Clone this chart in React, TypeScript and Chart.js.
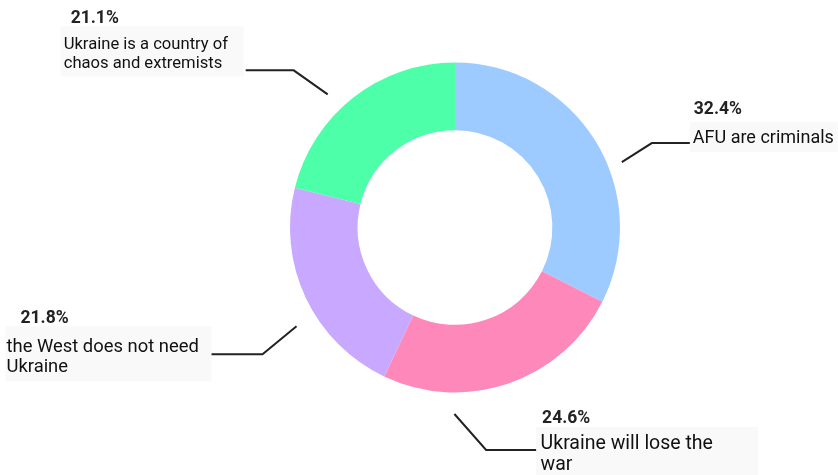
import React, { useEffect, useRef } from "react";
import { Chart, registerables } from "chart.js";

Chart.register(...registerables);

const CATEGORIES: string[][] = [
  ["AFU are criminals"],
  ["Ukraine will lose the", "war"],
  ["the West does not need", "Ukraine"],
  ["Ukraine is a country of", "chaos and extremists"],
];
const VALUES: number[] = [32.4, 24.6, 21.8, 21.1];
const COLORS: string[] = ["#9ecbff", "#ff88ba", "#c9a8ff", "#4dffa9"];

// annotation layout (leader lines and text boxes), relative to each slice
type LabelLayout = {
  shift: number;
  gap: number;
  elbow: [number, number];
  arm: number;
  boxX: number;
  boxY: number;
  boxW: number;
  boxH: number;
  textX: number;
  textY: number;
  pctX: number;
  pctY: number;
  size: number;
  lineH: number;
};
const LAYOUT: LabelLayout[] = [
  { shift: 10.2, gap: 14.2, elbow: [30, -19], arm: 38, boxX: 0, boxY: -21, boxW: 148, boxH: 30, textX: 3, textY: 0, pctX: 4, pctY: -29, size: 18, lineH: 20 },
  { shift: 19.1, gap: 21.5, elbow: [31.7, 36], arm: 50, boxX: 0, boxY: -23, boxW: 222, boxH: 50, textX: 4.5, textY: -0.5, pctX: 6, pctY: -27, size: 19.5, lineH: 20.7 },
  { shift: -6.6, gap: 21.7, elbow: [-34, 28], arm: -51, boxX: -206, boxY: -28, boxW: 206, boxH: 55, textX: -205, textY: -2, pctX: -191, pctY: -31, size: 18.4, lineH: 19.7 },
  { shift: -5.7, gap: 19.2, elbow: [-34, -24], arm: -48, boxX: -185, boxY: -44, boxW: 183, boxH: 50, textX: -182, textY: -21.7, pctX: -175, pctY: -47, size: 16.6, lineH: 19 },
];

const labelPlugin = {
  id: "leaderLabels",
  afterDraw(chart: any) {
    const ctx = chart.ctx as CanvasRenderingContext2D;
    const meta = chart.getDatasetMeta(0);
    const data = chart.data.datasets[0].data as number[];
    const labels = chart.data.labels as string[][];
    meta.data.forEach((arc: any, i: number) => {
      const L = LAYOUT[i];
      const p = arc.getProps(["x", "y", "startAngle", "endAngle", "outerRadius"], true);
      const a = (p.startAngle + p.endAngle) / 2 + (L.shift * Math.PI) / 180;
      const r = p.outerRadius + L.gap;
      const sx = p.x + Math.cos(a) * r;
      const sy = p.y + Math.sin(a) * r;
      const ex1 = sx + L.elbow[0];
      const ey1 = sy + L.elbow[1];
      const ex = ex1 + L.arm;
      const ey = ey1;
      ctx.save();
      ctx.fillStyle = "#f9f9f9";
      ctx.fillRect(ex + L.boxX, ey + L.boxY, L.boxW, L.boxH);
      ctx.strokeStyle = "#222222";
      ctx.lineWidth = 2;
      ctx.lineJoin = "miter";
      ctx.beginPath();
      ctx.moveTo(sx, sy);
      ctx.lineTo(ex1, ey1);
      ctx.lineTo(ex, ey);
      ctx.stroke();
      ctx.fillStyle = "#222222";
      ctx.textBaseline = "alphabetic";
      ctx.textAlign = "left";
      ctx.font = "bold 17.5px Roboto";
      ctx.fillText(data[i].toFixed(1) + "%", ex + L.pctX, ey + L.pctY);
      ctx.fillStyle = "#111111";
      ctx.font = `${L.size}px Roboto`;
      labels[i].forEach((line, k) => {
        ctx.fillText(line, ex + L.textX, ey + L.textY + k * L.lineH);
      });
      ctx.restore();
    });
  },
};

export default function App() {
  const ref = useRef<HTMLCanvasElement | null>(null);
  useEffect(() => {
    if (!ref.current) return;
    const chart = new Chart(ref.current, {
      type: "doughnut",
      data: {
        labels: CATEGORIES,
        datasets: [
          {
            data: VALUES,
            backgroundColor: COLORS,
            borderWidth: 0,
            hoverOffset: 0,
          },
        ],
      },
      options: {
        responsive: false,
        animation: false,
        cutout: "59%",
        layout: { padding: { left: 290, right: 218, top: 62, bottom: 82 } },
        plugins: {
          legend: { display: false },
          tooltip: { enabled: false },
        },
      },
      plugins: [labelPlugin],
    });
    return () => chart.destroy();
  }, []);
  return (
    <div style={{ position: "fixed", left: 0, top: 0, width: 838, height: 475, background: "#ffffff" }}>
      <canvas ref={ref} width={838} height={475} style={{ display: "block" }} />
    </div>
  );
}
